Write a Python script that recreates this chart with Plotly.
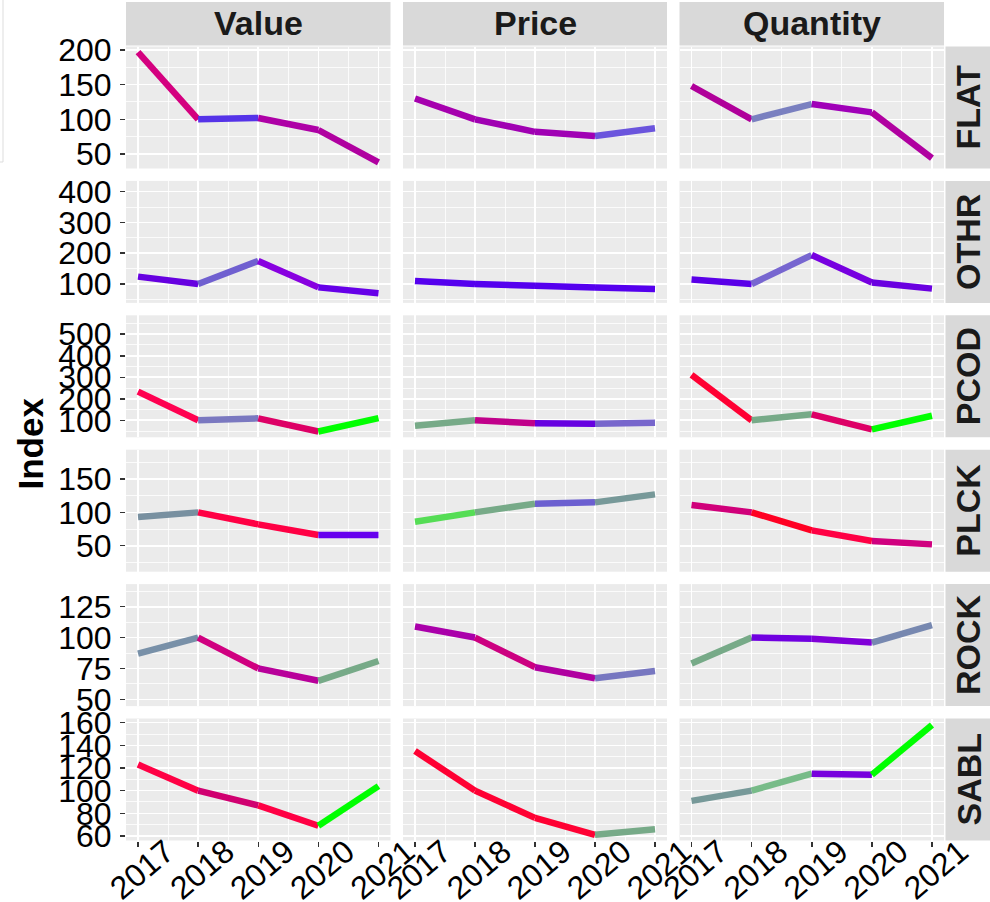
import plotly.graph_objects as go
from plotly.subplots import make_subplots

# ---------------- data ----------------
years = [2017, 2018, 2019, 2020, 2021]
species = ["FLAT", "OTHR", "PCOD", "PLCK", "ROCK", "SABL"]
metrics = ["Value", "Price", "Quantity"]

flat_value = [197, 100, 102, 84.6, 38]
flat_price = [130, 100, 82, 76, 87]
flat_quantity = [148, 100, 122, 110, 44]

othr_value = [124, 100, 175, 89, 70]
othr_price = [110, 100, 94, 89, 84]
othr_quantity = [115, 100, 194, 105, 85]

pcod_value = [233, 100, 109, 48, 110]
pcod_price = [75, 100, 86, 84, 89]
pcod_quantity = [311, 100, 128, 58, 121]

plck_value = [93, 100, 82, 66, 66]
plck_price = [86, 100, 113, 115, 127]
plck_quantity = [111, 100, 73, 57, 52]

rock_value = [87, 100, 75, 65, 81]
rock_price = [109, 100, 76, 67, 73]
rock_quantity = [79, 100, 99, 96, 110]

sabl_value = [123, 100, 87, 69, 104]
sabl_price = [135, 100, 76, 61, 66]
sabl_quantity = [91, 100, 115, 114, 158]

flat_ticks = [50, 100, 150, 200]
othr_ticks = [100, 200, 300, 400]
pcod_ticks = [100, 200, 300, 400, 500]
plck_ticks = [50, 100, 150]
rock_ticks = [50, 75, 100, 125]
sabl_ticks = [60, 80, 100, 120, 140, 160]

series = {
    "FLAT": [flat_value, flat_price, flat_quantity],
    "OTHR": [othr_value, othr_price, othr_quantity],
    "PCOD": [pcod_value, pcod_price, pcod_quantity],
    "PLCK": [plck_value, plck_price, plck_quantity],
    "ROCK": [rock_value, rock_price, rock_quantity],
    "SABL": [sabl_value, sabl_price, sabl_quantity],
}
row_ticks = {
    "FLAT": flat_ticks, "OTHR": othr_ticks, "PCOD": pcod_ticks,
    "PLCK": plck_ticks, "ROCK": rock_ticks, "SABL": sabl_ticks,
}

# ---------------- styles ----------------
segment_colors = {
    "FLAT": [["#D4007F", "#5533E8", "#AE00A6", "#B000A0"],
             ["#A600AE", "#A000B2", "#A000B4", "#6B55DD"],
             ["#B0009A", "#7A80C0", "#A000B8", "#B000A0"]],
    "OTHR": [["#6600E0", "#7060D0", "#8800E0", "#6600E8"],
             ["#5500EE", "#5500EE", "#5500EE", "#5500EE"],
             ["#5A00E8", "#7766D0", "#7700E0", "#6A00E0"]],
    "PCOD": [["#FF0050", "#7A78C0", "#DD0066", "#00FF00"],
             ["#77AA88", "#C0008A", "#6600E0", "#7766CC"],
             ["#FF0033", "#77AA88", "#DD0066", "#00FF00"]],
    "PLCK": [["#7890A0", "#FF0044", "#FF0044", "#6600EE"],
             ["#55DD55", "#77AA88", "#6B5FD0", "#779999"],
             ["#D0007A", "#FF0022", "#FF0044", "#D0007F"]],
    "ROCK": [["#7890A8", "#D00080", "#B8009A", "#77AA88"],
             ["#AA00AA", "#CC0080", "#B000A0", "#7777C0"],
             ["#77AA88", "#7000E0", "#8000D8", "#7788B0"]],
    "SABL": [["#FF0044", "#D00070", "#FF0044", "#00FF00"],
             ["#FF0033", "#FF0033", "#FF0033", "#77AA88"],
             ["#779999", "#77BB88", "#7700DD", "#00FF00"]],
}
y_ranges = {
    "FLAT": [29.1, 205], "OTHR": [38.6, 435], "PCOD": [21, 588],
    "PLCK": [11, 194], "ROCK": [44.5, 143.3], "SABL": [56, 163.7],
}

W, H = 990, 902
col_px = [(126, 390.5), (403, 667), (679.5, 944)]
row_top0, row_step, row_h = 46.5, 134.4, 122.0

FONT = "Liberation Sans, Arial, sans-serif"
BG = "#EBEBEB"
STRIP = "#D9D9D9"
TICK_SIZE = 32
STRIP_SIZE = 34

fig = make_subplots(rows=6, cols=3)

for r, sp in enumerate(species):
    for c, m in enumerate(metrics):
        vals = series[sp][c]
        cols = segment_colors[sp][c]
        for i in range(len(years) - 1):
            fig.add_trace(
                go.Scatter(x=years[i:i + 2], y=vals[i:i + 2], mode="lines",
                           line=dict(color=cols[i], width=6.5),
                           showlegend=False, hoverinfo="skip"),
                row=r + 1, col=c + 1)

x_minor = [years[0] - 0.5] + [y + 0.5 for y in years]

for r, sp in enumerate(species):
    top = row_top0 + r * row_step
    bot = top + row_h
    ticks = row_ticks[sp]
    step = ticks[1] - ticks[0]
    y_minor = [ticks[0] - step / 2] + [t + step / 2 for t in ticks]
    for c in range(3):
        idx = r * 3 + c + 1
        xa = "xaxis" if idx == 1 else f"xaxis{idx}"
        ya = "yaxis" if idx == 1 else f"yaxis{idx}"
        fig.layout[xa].update(
            domain=[col_px[c][0] / W, col_px[c][1] / W],
            range=[2016.8, 2021.2], tickmode="array", tickvals=years,
            ticktext=[str(y) for y in years],
            showticklabels=(r == 5), ticks="outside" if r == 5 else "",
            ticklen=5, tickwidth=1.5, tickcolor="#333333",
            tickangle=-40, ticklabelshift=28, ticklabelstandoff=-26,
            tickfont=dict(family=FONT, size=TICK_SIZE, color="black"),
            showgrid=True, gridcolor="white", gridwidth=1.6,
            minor=dict(tickmode="array", tickvals=x_minor, showgrid=True,
                       gridcolor="white", gridwidth=0.8, ticks=""),
            zeroline=False, showline=False, automargin=False, fixedrange=True)
        fig.layout[ya].update(
            domain=[1 - bot / H, 1 - top / H],
            range=y_ranges[sp], tickmode="array", tickvals=ticks,
            showticklabels=(c == 0), ticks="outside" if c == 0 else "",
            ticklen=5, tickwidth=1.5, tickcolor="#333333",
            ticklabelstandoff=2,
            tickfont=dict(family=FONT, size=TICK_SIZE, color="black"),
            showgrid=True, gridcolor="white", gridwidth=1.6,
            minor=dict(tickmode="array", tickvals=y_minor, showgrid=True,
                       gridcolor="white", gridwidth=0.8, ticks=""),
            zeroline=False, showline=False, automargin=False, fixedrange=True)

shapes = []
annotations = []
# top strips
for c, m in enumerate(metrics):
    x0, x1 = col_px[c]
    shapes.append(dict(type="rect", xref="paper", yref="paper",
                       x0=x0 / W, x1=x1 / W, y0=1 - 45.5 / H, y1=1 - 2 / H,
                       fillcolor=STRIP, line=dict(width=0), layer="below"))
    annotations.append(dict(xref="paper", yref="paper", x=(x0 + x1) / 2 / W,
                            y=1 - 23.5 / H, text=m, showarrow=False,
                            xanchor="center", yanchor="middle",
                            font=dict(family=FONT, size=STRIP_SIZE,
                                      color="#1A1A1A", weight="bold")))
# right strips
for r, sp in enumerate(species):
    top = row_top0 + r * row_step
    bot = top + row_h
    shapes.append(dict(type="rect", xref="paper", yref="paper",
                       x0=945.5 / W, x1=1.02, y0=1 - bot / H, y1=1 - top / H,
                       fillcolor=STRIP, line=dict(width=0), layer="below"))
    annotations.append(dict(xref="paper", yref="paper", x=968 / W,
                            y=1 - (top + bot) / 2 / H, text=sp, showarrow=False,
                            textangle=-90, xanchor="center", yanchor="middle",
                            font=dict(family=FONT, size=STRIP_SIZE,
                                      color="#1A1A1A", weight="bold")))
# y-axis title
annotations.append(dict(xref="paper", yref="paper", x=30 / W,
                        y=1 - 443.5 / H, text="Index", showarrow=False,
                        textangle=-90, xanchor="center", yanchor="middle",
                        font=dict(family=FONT, size=35, color="black",
                                  weight="bold")))
# clipped legend frame at left edge
shapes.append(dict(type="rect", xref="paper", yref="paper",
                   x0=-20 / W, x1=3 / W, y0=1 - 162 / H, y1=1.05,
                   line=dict(color="#DDDDDD", width=1), fillcolor="rgba(0,0,0,0)"))

fig.update_layout(
    width=W, height=H, autosize=False,
    margin=dict(l=0, r=0, t=0, b=0),
    paper_bgcolor="white", plot_bgcolor=BG,
    template="none", showlegend=False,
    shapes=shapes, annotations=annotations,
    font=dict(family=FONT),
)

fig.write_html("out.html",
               config={"displayModeBar": False, "staticPlot": True},
               post_script="document.body.style.margin='0';"
                           "document.body.style.overflow='hidden';")
